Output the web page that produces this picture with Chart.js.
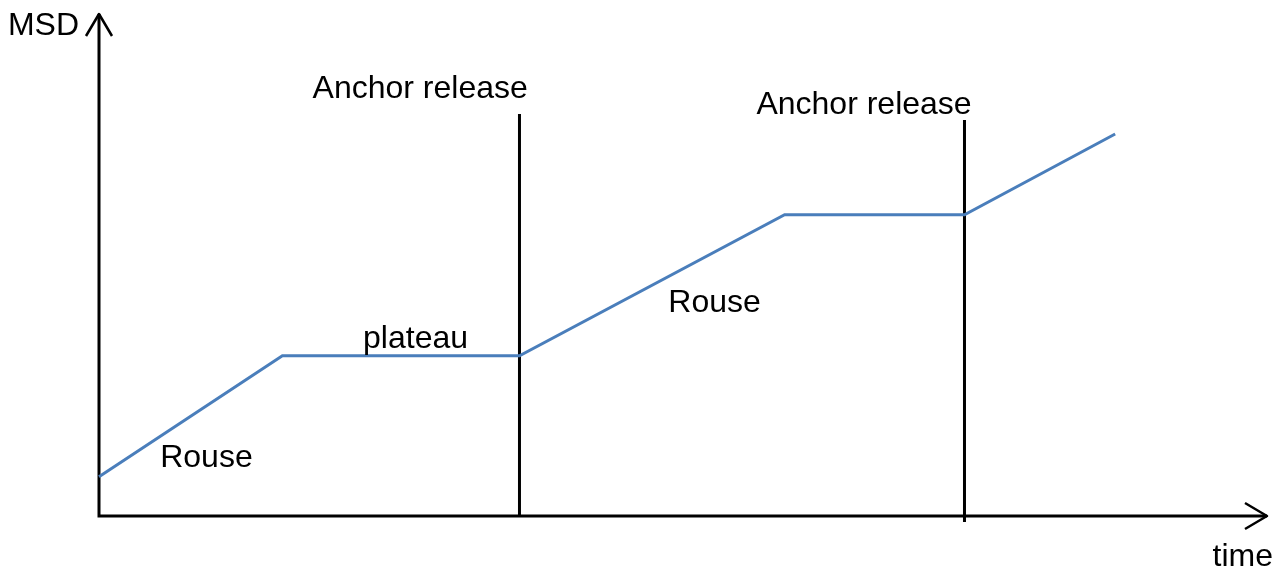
<!DOCTYPE html>
<html>
<head>
<meta charset="utf-8">
<script src="https://cdn.jsdelivr.net/npm/chart.js@4/dist/chart.umd.min.js"></script>
<style>
  html, body { margin: 0; padding: 0; background: #fff; }
  canvas { display: block; }
</style>
</head>
<body>
<canvas id="myChart" width="1286" height="573"></canvas>
<script>
// MSD vs time sketch (arbitrary units, 0..100 on both axes)
var timePts = [0, 15.7, 36.0, 58.7, 74.1, 87.0];
var msdPts = [7.8, 31.9, 31.9, 60.0, 60.0, 76.1];

// anchor release markers: time position, bottom and top of the line
var releaseTimes = [36.0, 74.1];
var releaseBottom = [0, -1.2];
var releaseTop = [80.1, 78.9];

var labelTexts = ['Anchor release', 'Anchor release', 'Rouse', 'plateau', 'Rouse'];
var labelTime = [27.5, 65.5, 9.2, 27.1, 52.7];
var labelMsd = [85.0, 81.8, 11.6, 35.3, 42.4];

var xTitle = 'time';
var yTitle = 'MSD';

var FONT = '32px "Liberation Sans", Arial, sans-serif';

var datasets = [{
    data: timePts.map(function(t, i) { return {x: t, y: msdPts[i]}; }),
    borderColor: '#4a7ebb',
    borderWidth: 3,
    pointRadius: 0,
    tension: 0,
    clip: false
}];
for (var i = 0; i < releaseTimes.length; i++) {
    datasets.push({
        data: [{x: releaseTimes[i], y: releaseBottom[i]}, {x: releaseTimes[i], y: releaseTop[i]}],
        borderColor: '#000',
        borderWidth: 3,
        pointRadius: 0,
        clip: false
    });
}

var sketchPlugin = {
    id: 'sketch',
    beforeDatasetsDraw: function(chart) {
        var ctx = chart.ctx;
        var a = chart.chartArea;
        ctx.save();
        ctx.strokeStyle = '#000';
        ctx.lineWidth = 3;
        ctx.lineJoin = 'miter';
        ctx.beginPath();
        ctx.moveTo(a.left, a.top);
        ctx.lineTo(a.left, a.bottom);
        ctx.lineTo(a.right, a.bottom);
        ctx.stroke();
        // arrow heads
        ctx.lineWidth = 2.5;
        ctx.lineJoin = 'round';
        ctx.beginPath();
        ctx.moveTo(a.left - 13, a.top + 22);
        ctx.lineTo(a.left, a.top);
        ctx.lineTo(a.left + 13, a.top + 22);
        ctx.moveTo(a.right - 22, a.bottom - 13);
        ctx.lineTo(a.right, a.bottom);
        ctx.lineTo(a.right - 22, a.bottom + 13);
        ctx.stroke();
        ctx.restore();
    },
    afterDatasetsDraw: function(chart) {
        var ctx = chart.ctx;
        var a = chart.chartArea;
        var xs = chart.scales.x, ys = chart.scales.y;
        ctx.save();
        ctx.fillStyle = '#000';
        ctx.font = FONT;
        ctx.textAlign = 'center';
        ctx.textBaseline = 'middle';
        for (var i = 0; i < labelTexts.length; i++) {
            ctx.fillText(labelTexts[i], xs.getPixelForValue(labelTime[i]), ys.getPixelForValue(labelMsd[i]));
        }
        ctx.textAlign = 'right';
        ctx.fillText(yTitle, a.left - 20, a.top + 12);
        ctx.fillText(xTitle, a.right + 6, a.bottom + 41);
        ctx.restore();
    }
};

var chart = new Chart(document.getElementById('myChart').getContext('2d'), {
    type: 'line',
    data: { datasets: datasets },
    options: {
        responsive: false,
        animation: false,
        layout: { padding: { left: 99, right: 19, top: 14, bottom: 57 } },
        plugins: { legend: { display: false }, tooltip: { enabled: false } },
        scales: {
            x: { type: 'linear', min: 0, max: 100, display: false },
            y: { type: 'linear', min: 0, max: 100, display: false }
        }
    },
    plugins: [sketchPlugin]
});
</script>
</body>
</html>
